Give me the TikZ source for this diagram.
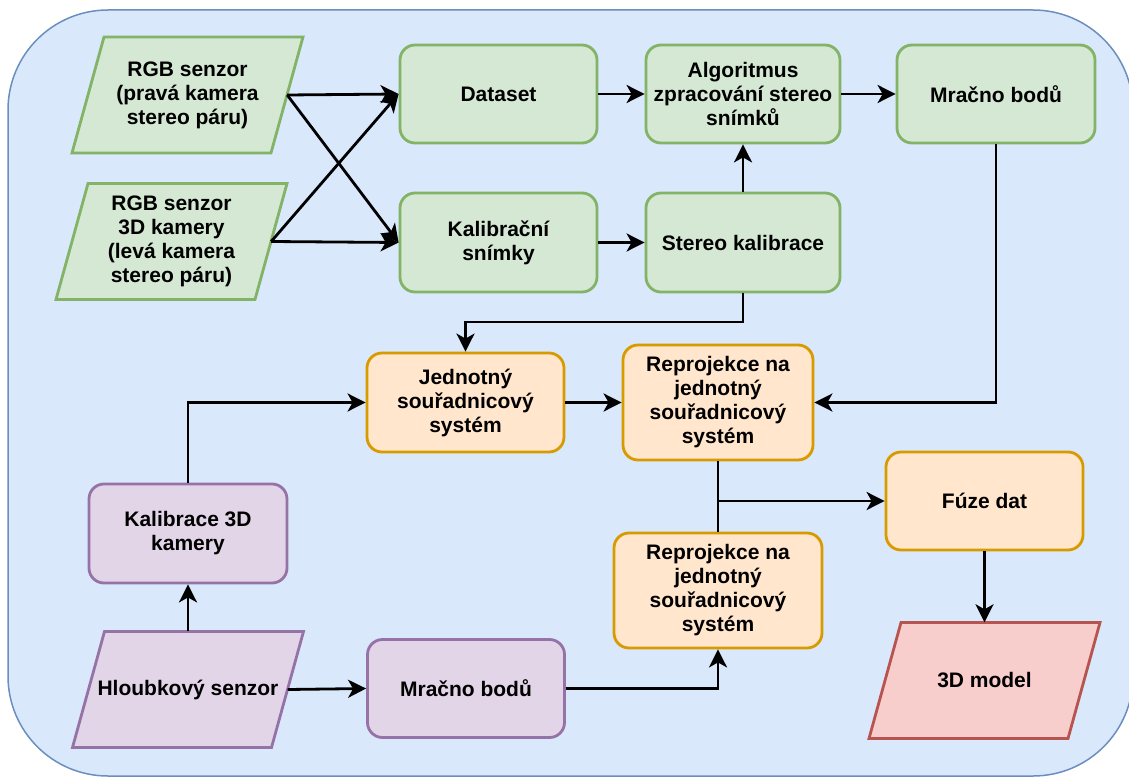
\documentclass[tikz,border=0pt]{standalone}
\usepackage{fontspec}
\setmainfont{Liberation Sans}
\usetikzlibrary{arrows.meta}

\definecolor{bgfill}{HTML}{DAE8FC}
\definecolor{bgline}{HTML}{6C8EBF}
\definecolor{grfill}{HTML}{D5E8D4}
\definecolor{grline}{HTML}{82B366}
\definecolor{orfill}{HTML}{FFE6CC}
\definecolor{orline}{HTML}{D79B00}
\definecolor{pufill}{HTML}{E1D5E7}
\definecolor{puline}{HTML}{9673A6}
\definecolor{rdfill}{HTML}{F8CECC}
\definecolor{rdline}{HTML}{B85450}

% rovnobeznik: styl, jmeno, x, y, text
\newcommand{\iobox}[5]{%
	\draw[#1, line width=2.8pt] (#3-83.5,#4-58) -- (#3+115.5,#4-58) -- (#3+83.5,#4+58) -- (#3-115.5,#4+58) -- cycle;
	\node[minimum width=199pt, minimum height=116pt, inner sep=0pt] (#2) at (#3,#4) {#5};}

\begin{document}
\begin{tikzpicture}[x=1pt, y=-1pt,
		every node/.style={font=\fontsize{21}{24}\selectfont\bfseries, align=center},
		box/.style={rectangle, rounded corners=15pt, line width=2.8pt, inner sep=0pt},
		green/.style={fill=grfill, draw=grline},
		orange/.style={fill=orfill, draw=orline},
		purple/.style={fill=pufill, draw=puline},
		red/.style={fill=rdfill, draw=rdline},
		arr/.style={line width=2.8pt, -{Stealth[length=18pt, width=18pt, inset=5pt]}},
		line/.style={line width=2.8pt}]
		\useasboundingbox (0,0) rectangle (1129,778);
		\draw[fill=bgfill, draw=bgline, line width=1.5pt, rounded corners=100pt] (8,10) rectangle (1133,776);

		% vstupy RGB
		\iobox{green}{senzR}{187.5}{95}{RGB senzor\\(pravá kamera\\stereo páru)}
		\iobox{green}{senzL}{171.5}{241.5}{RGB senzor\\3D kamery\\(levá kamera\\stereo páru)}

		\node[box, green, minimum width=197pt, minimum height=98pt] (dataset) at (498.5,94) {Dataset};
		\node[box, green, minimum width=197pt, minimum height=99pt] (kalsn) at (498.5,242.5) {Kalibrační\\snímky};
		\node[box, green, minimum width=194pt, minimum height=98pt] (algo) at (743,94) {Algoritmus\\zpracování stereo\\snímků};
		\node[box, green, minimum width=194pt, minimum height=99pt] (stkal) at (743,242.5) {Stereo kalibrace};
		\node[box, green, minimum width=198pt, minimum height=98pt] (mracnoA) at (996,94) {Mračno bodů};

		% souradnicove systemy
		\node[box, orange, minimum width=197pt, minimum height=99pt] (jednot) at (465.5,402.5) {Jednotný\\souřadnicový\\systém};
		\node[box, orange, minimum width=190pt, minimum height=115pt] (reproA) at (718,402.5) {Reprojekce na\\jednotný\\souřadnicový\\systém};
		\node[box, orange, minimum width=208pt, minimum height=115pt] (reproB) at (718,590.5) {Reprojekce na\\jednotný\\souřadnicový\\systém};
		\node[box, orange, minimum width=197pt, minimum height=98pt] (fuze) at (984.5,501) {Fúze dat};

		% hloubkovy senzor
		\node[box, purple, minimum width=198pt, minimum height=99pt] (kal3d) at (188,533.5) {Kalibrace 3D\\kamery};
		\iobox{purple}{hloub}{188}{689.5}{Hloubkový senzor}
		\node[box, purple, minimum width=197pt, minimum height=98pt] (mracnoB) at (466,688.5) {Mračno bodů};

		\iobox{red}{model}{984.5}{680.5}{3D model}

		\draw[arr] (senzR.east) -- (dataset.west);
		\draw[arr] (senzR.east) -- (kalsn.west);
		\draw[arr] (senzL.east) -- (dataset.west);
		\draw[arr] (senzL.east) -- (kalsn.west);
		\draw[arr] (dataset) -- (algo);
		\draw[arr] (algo) -- (mracnoA);
		\draw[arr] (kalsn) -- (stkal);
		\draw[arr] (stkal) -- (algo);
		\draw[arr] (stkal.south) -- ++(0,28.5) -| (jednot.north);
		\draw[arr] (mracnoA.south) |- (reproA.east);
		\draw[arr] (jednot) -- (reproA);
		\draw[arr] (kal3d.north) |- (jednot.west);
		\draw[arr] (hloub.north) -- (kal3d.south);
		\draw[arr] (hloub.east) -- (mracnoB.west);
		\draw[arr] (mracnoB.east) -| (reproB.south);
		\draw[line] (reproA.south) -- (reproB.north);
		\draw[arr] (reproA.south |- fuze.west) -- (fuze.west);
		\draw[arr] (fuze) -- (model);
	\end{tikzpicture}
\end{document}
